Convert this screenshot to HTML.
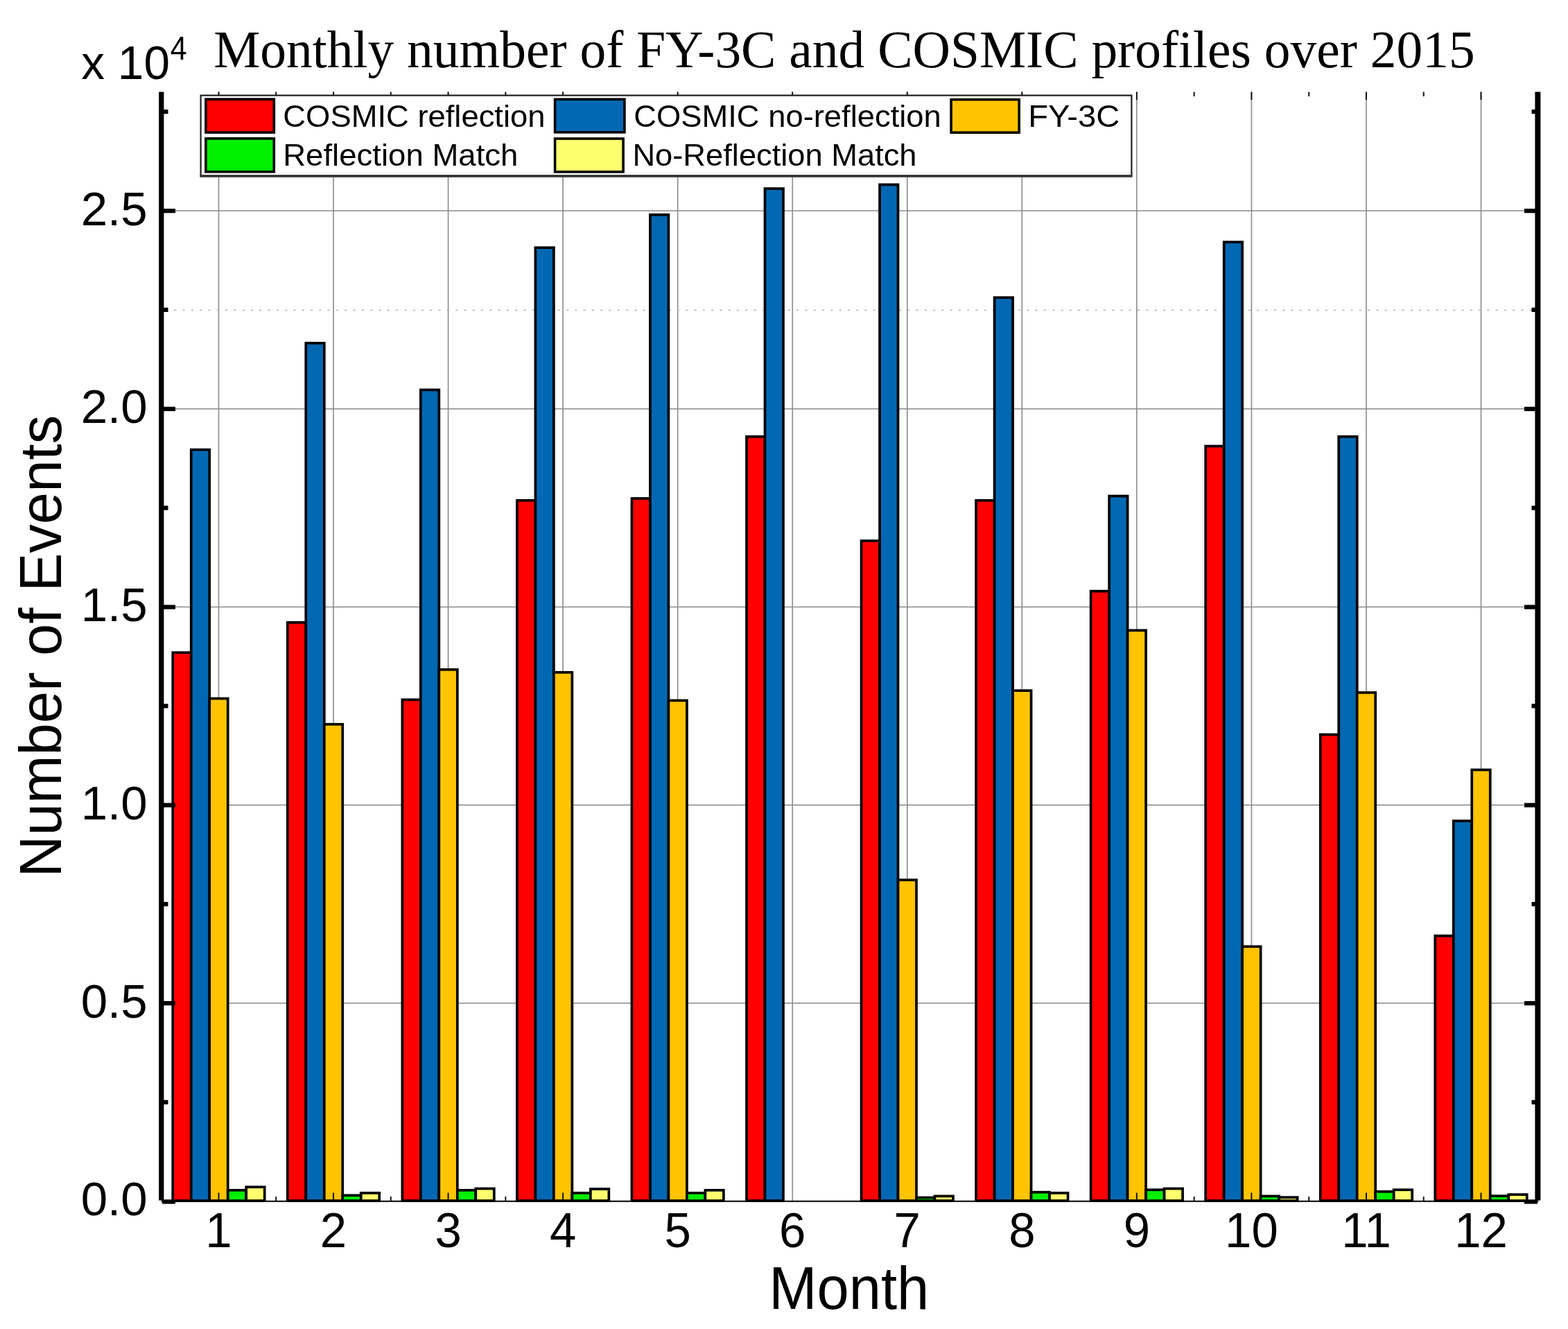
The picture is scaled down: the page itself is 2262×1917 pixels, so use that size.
<!DOCTYPE html>
<html><head><meta charset="utf-8"><title>Monthly number of FY-3C and COSMIC profiles over 2015</title>
<style>html,body{margin:0;padding:0;background:#fff;}body{width:2262px;height:1917px;overflow:hidden;}svg{display:block;}.s{font-family:"Liberation Sans",Arial,sans-serif;}.t{font-family:"Liberation Serif","Times New Roman",serif;}</style></head><body>
<svg width="2262" height="1917" viewBox="0 0 2262 1917">
<rect x="0" y="0" width="2262" height="1917" fill="#ffffff"/>
<path d="M315.48 132.60V1732.80M481.02 132.60V1732.80M646.58 132.60V1732.80M812.12 132.60V1732.80M977.67 132.60V1732.80M1143.23 132.60V1732.80M1308.78 132.60V1732.80M1474.33 132.60V1732.80M1639.88 132.60V1732.80M1805.43 132.60V1732.80M1970.98 132.60V1732.80M2136.53 132.60V1732.80M232.70 1447.05H2219.30M232.70 1161.30H2219.30M232.70 875.55H2219.30M232.70 589.80H2219.30M232.70 304.05H2219.30" stroke="#8a8a8a" stroke-width="1.6" fill="none"/>
<path d="M238.70 447.40H2219.30" stroke="#b4b4b4" stroke-width="1.5" stroke-dasharray="3.5 8.8" fill="none"/>
<rect x="249.25" y="941.27" width="26.49" height="790.73" fill="#ff0000" stroke="#000" stroke-width="3.7"/>
<rect x="414.80" y="897.84" width="26.49" height="834.16" fill="#ff0000" stroke="#000" stroke-width="3.7"/>
<rect x="580.36" y="1009.28" width="26.49" height="722.72" fill="#ff0000" stroke="#000" stroke-width="3.7"/>
<rect x="745.90" y="721.82" width="26.49" height="1010.18" fill="#ff0000" stroke="#000" stroke-width="3.7"/>
<rect x="911.45" y="718.96" width="26.49" height="1013.04" fill="#ff0000" stroke="#000" stroke-width="3.7"/>
<rect x="1077.01" y="629.81" width="26.49" height="1102.19" fill="#ff0000" stroke="#000" stroke-width="3.7"/>
<rect x="1242.56" y="780.11" width="26.49" height="951.89" fill="#ff0000" stroke="#000" stroke-width="3.7"/>
<rect x="1408.11" y="721.82" width="26.49" height="1010.18" fill="#ff0000" stroke="#000" stroke-width="3.7"/>
<rect x="1573.66" y="852.69" width="26.49" height="879.31" fill="#ff0000" stroke="#000" stroke-width="3.7"/>
<rect x="1739.21" y="643.52" width="26.49" height="1088.48" fill="#ff0000" stroke="#000" stroke-width="3.7"/>
<rect x="1904.76" y="1059.57" width="26.49" height="672.43" fill="#ff0000" stroke="#000" stroke-width="3.7"/>
<rect x="2070.31" y="1349.89" width="26.49" height="382.11" fill="#ff0000" stroke="#000" stroke-width="3.7"/>
<rect x="275.74" y="648.66" width="26.49" height="1083.34" fill="#0068b2" stroke="#000" stroke-width="3.7"/>
<rect x="441.29" y="494.93" width="26.49" height="1237.07" fill="#0068b2" stroke="#000" stroke-width="3.7"/>
<rect x="606.84" y="562.37" width="26.49" height="1169.63" fill="#0068b2" stroke="#000" stroke-width="3.7"/>
<rect x="772.39" y="357.20" width="26.49" height="1374.80" fill="#0068b2" stroke="#000" stroke-width="3.7"/>
<rect x="937.94" y="309.76" width="26.49" height="1422.24" fill="#0068b2" stroke="#000" stroke-width="3.7"/>
<rect x="1103.49" y="272.05" width="26.49" height="1459.95" fill="#0068b2" stroke="#000" stroke-width="3.7"/>
<rect x="1269.04" y="266.33" width="26.49" height="1465.67" fill="#0068b2" stroke="#000" stroke-width="3.7"/>
<rect x="1434.59" y="429.21" width="26.49" height="1302.79" fill="#0068b2" stroke="#000" stroke-width="3.7"/>
<rect x="1600.14" y="715.53" width="26.49" height="1016.47" fill="#0068b2" stroke="#000" stroke-width="3.7"/>
<rect x="1765.69" y="349.20" width="26.49" height="1382.80" fill="#0068b2" stroke="#000" stroke-width="3.7"/>
<rect x="1931.24" y="629.81" width="26.49" height="1102.19" fill="#0068b2" stroke="#000" stroke-width="3.7"/>
<rect x="2096.79" y="1184.16" width="26.49" height="547.84" fill="#0068b2" stroke="#000" stroke-width="3.7"/>
<rect x="302.23" y="1007.57" width="26.49" height="724.43" fill="#ffc400" stroke="#000" stroke-width="3.7"/>
<rect x="467.78" y="1044.71" width="26.49" height="687.29" fill="#ffc400" stroke="#000" stroke-width="3.7"/>
<rect x="633.33" y="965.85" width="26.49" height="766.15" fill="#ffc400" stroke="#000" stroke-width="3.7"/>
<rect x="798.88" y="969.85" width="26.49" height="762.15" fill="#ffc400" stroke="#000" stroke-width="3.7"/>
<rect x="964.43" y="1010.42" width="26.49" height="721.58" fill="#ffc400" stroke="#000" stroke-width="3.7"/>
<rect x="1295.53" y="1269.31" width="26.49" height="462.69" fill="#ffc400" stroke="#000" stroke-width="3.7"/>
<rect x="1461.08" y="996.14" width="26.49" height="735.86" fill="#ffc400" stroke="#000" stroke-width="3.7"/>
<rect x="1626.63" y="909.27" width="26.49" height="822.73" fill="#ffc400" stroke="#000" stroke-width="3.7"/>
<rect x="1792.18" y="1365.33" width="26.49" height="366.67" fill="#ffc400" stroke="#000" stroke-width="3.7"/>
<rect x="1957.73" y="998.99" width="26.49" height="733.01" fill="#ffc400" stroke="#000" stroke-width="3.7"/>
<rect x="2123.28" y="1110.44" width="26.49" height="621.56" fill="#ffc400" stroke="#000" stroke-width="3.7"/>
<rect x="328.72" y="1716.80" width="26.49" height="15.20" fill="#00f000" stroke="#000" stroke-width="3.7"/>
<rect x="494.27" y="1724.23" width="26.49" height="7.77" fill="#00f000" stroke="#000" stroke-width="3.7"/>
<rect x="659.82" y="1716.80" width="26.49" height="15.20" fill="#00f000" stroke="#000" stroke-width="3.7"/>
<rect x="825.37" y="1720.80" width="26.49" height="11.20" fill="#00f000" stroke="#000" stroke-width="3.7"/>
<rect x="990.92" y="1720.80" width="26.49" height="11.20" fill="#00f000" stroke="#000" stroke-width="3.7"/>
<rect x="1322.02" y="1727.43" width="26.49" height="4.57" fill="#00f000" stroke="#000" stroke-width="3.7"/>
<rect x="1487.57" y="1719.66" width="26.49" height="12.34" fill="#00f000" stroke="#000" stroke-width="3.7"/>
<rect x="1653.12" y="1716.23" width="26.49" height="15.77" fill="#00f000" stroke="#000" stroke-width="3.7"/>
<rect x="1818.67" y="1725.37" width="26.49" height="6.63" fill="#00f000" stroke="#000" stroke-width="3.7"/>
<rect x="1984.22" y="1718.80" width="26.49" height="13.20" fill="#00f000" stroke="#000" stroke-width="3.7"/>
<rect x="2149.77" y="1725.08" width="26.49" height="6.92" fill="#00f000" stroke="#000" stroke-width="3.7"/>
<rect x="355.21" y="1712.23" width="26.49" height="19.77" fill="#ffff6e" stroke="#000" stroke-width="3.7"/>
<rect x="520.76" y="1720.80" width="26.49" height="11.20" fill="#ffff6e" stroke="#000" stroke-width="3.7"/>
<rect x="686.31" y="1714.51" width="26.49" height="17.49" fill="#ffff6e" stroke="#000" stroke-width="3.7"/>
<rect x="851.86" y="1715.08" width="26.49" height="16.92" fill="#ffff6e" stroke="#000" stroke-width="3.7"/>
<rect x="1017.41" y="1716.80" width="26.49" height="15.20" fill="#ffff6e" stroke="#000" stroke-width="3.7"/>
<rect x="1348.51" y="1725.37" width="26.49" height="6.63" fill="#ffff6e" stroke="#000" stroke-width="3.7"/>
<rect x="1514.06" y="1720.80" width="26.49" height="11.20" fill="#ffff6e" stroke="#000" stroke-width="3.7"/>
<rect x="1679.61" y="1714.51" width="26.49" height="17.49" fill="#ffff6e" stroke="#000" stroke-width="3.7"/>
<rect x="1845.16" y="1727.09" width="26.49" height="4.91" fill="#ffff6e" stroke="#000" stroke-width="3.7"/>
<rect x="2010.71" y="1716.23" width="26.49" height="15.77" fill="#ffff6e" stroke="#000" stroke-width="3.7"/>
<rect x="2176.26" y="1723.08" width="26.49" height="8.92" fill="#ffff6e" stroke="#000" stroke-width="3.7"/>
<path d="M232.70 1732.80H2219.30" stroke="#000" stroke-width="2" fill="none"/>
<path d="M315.48 1732.00v-11.5M315.48 132.60v11.5M481.02 1732.00v-11.5M481.02 132.60v11.5M646.58 1732.00v-11.5M646.58 132.60v11.5M812.12 1732.00v-11.5M812.12 132.60v11.5M977.67 132.60v11.5M1143.23 132.60v11.5M1308.78 132.60v11.5M1474.33 132.60v11.5M1639.88 1732.00v-11.5M1639.88 132.60v11.5M1805.43 1732.00v-11.5M1805.43 132.60v11.5M1970.98 1732.00v-11.5M1970.98 132.60v11.5M2136.53 1732.00v-11.5M2136.53 132.60v11.5M398.25 1732.00v-6M398.25 132.60v6.5M563.80 1732.00v-6M563.80 132.60v6.5M729.35 1732.00v-6M729.35 132.60v6.5M1722.65 1732.00v-6M1722.65 132.60v6.5M1888.20 1732.00v-6M1888.20 132.60v6.5M2053.75 1732.00v-6M2053.75 132.60v6.5" stroke="#141414" stroke-width="2" fill="none"/>
<path d="M232.8 132.60V1731.5" stroke="#000" stroke-width="7.2" fill="none"/>
<path d="M2218.4 132.60V1731.5" stroke="#000" stroke-width="8" fill="none"/>
<path d="M234 1733.40H253M2199 1733.40H2218M234 1447.05H253M2199 1447.05H2218M234 1161.30H253M2199 1161.30H2218M234 875.55H253M2199 875.55H2218M234 589.80H253M2199 589.80H2218M234 304.05H253M2199 304.05H2218M234 1589.92H242.5M2209.5 1589.92H2218M234 1304.17H242.5M2209.5 1304.17H2218M234 1018.42H242.5M2209.5 1018.42H2218M234 732.67H242.5M2209.5 732.67H2218M234 446.92H242.5M2209.5 446.92H2218M234 161.17H242.5M2209.5 161.17H2218" stroke="#000" stroke-width="6.2" fill="none"/>
<text class="t" transform="translate(308.19 97.10) scale(1.0064 1.0243)" font-size="75" text-anchor="start">Monthly number of FY-3C and COSMIC profiles over 2015</text>
<text class="s" transform="translate(117.28 114.40) scale(1.0240 1.0373)" font-size="66" text-anchor="start">x 10</text>
<text class="s" transform="translate(245.64 86.30) scale(0.9565 1.0594)" font-size="45" text-anchor="start">4</text>
<text class="s" transform="translate(87.80 932.06) rotate(-90) scale(1.0038 1.0367)" font-size="83" text-anchor="middle">Number of Events</text>
<text class="s" transform="translate(1224.85 1888.40) scale(1.0014 1.0595)" font-size="83" text-anchor="middle">Month</text>
<text class="s" transform="translate(212.60 1753.30) scale(1.0000 1.0048)" font-size="69" text-anchor="end">0.0</text>
<text class="s" transform="translate(212.60 1467.55) scale(1.0000 1.0048)" font-size="69" text-anchor="end">0.5</text>
<text class="s" transform="translate(212.60 1181.80) scale(1.0000 1.0048)" font-size="69" text-anchor="end">1.0</text>
<text class="s" transform="translate(212.60 896.05) scale(1.0000 1.0048)" font-size="69" text-anchor="end">1.5</text>
<text class="s" transform="translate(212.60 610.30) scale(1.0000 1.0048)" font-size="69" text-anchor="end">2.0</text>
<text class="s" transform="translate(212.60 324.55) scale(1.0000 1.0048)" font-size="69" text-anchor="end">2.5</text>
<text class="s" transform="translate(315.48 1798.90) scale(1.0000 1.0111)" font-size="69" text-anchor="middle">1</text>
<text class="s" transform="translate(481.02 1798.90) scale(1.0000 1.0111)" font-size="69" text-anchor="middle">2</text>
<text class="s" transform="translate(646.58 1798.90) scale(1.0000 1.0111)" font-size="69" text-anchor="middle">3</text>
<text class="s" transform="translate(812.12 1798.90) scale(1.0000 1.0111)" font-size="69" text-anchor="middle">4</text>
<text class="s" transform="translate(977.67 1798.90) scale(1.0000 1.0111)" font-size="69" text-anchor="middle">5</text>
<text class="s" transform="translate(1143.23 1798.90) scale(1.0000 1.0111)" font-size="69" text-anchor="middle">6</text>
<text class="s" transform="translate(1308.78 1798.90) scale(1.0000 1.0111)" font-size="69" text-anchor="middle">7</text>
<text class="s" transform="translate(1474.33 1798.90) scale(1.0000 1.0111)" font-size="69" text-anchor="middle">8</text>
<text class="s" transform="translate(1639.88 1798.90) scale(1.0000 1.0111)" font-size="69" text-anchor="middle">9</text>
<text class="s" transform="translate(1805.43 1798.90) scale(1.0000 1.0111)" font-size="69" text-anchor="middle">10</text>
<text class="s" transform="translate(1970.98 1798.90) scale(1.0000 1.0111)" font-size="69" text-anchor="middle">11</text>
<text class="s" transform="translate(2136.53 1798.90) scale(1.0000 1.0111)" font-size="69" text-anchor="middle">12</text>
<rect x="289.6" y="137.6" width="1342.8" height="116" fill="#fff" stroke="#1e1e1e" stroke-width="2.2"/>
<path d="M288.5 254H1633.4" stroke="#333" stroke-width="3.4" fill="none"/>
<rect x="296.90" y="143.10" width="98.40" height="48.00" fill="#ff0000" stroke="#000" stroke-width="3.6"/>
<rect x="296.90" y="199.80" width="98.40" height="48.00" fill="#00f000" stroke="#000" stroke-width="3.6"/>
<rect x="800.60" y="143.20" width="100.30" height="47.60" fill="#0068b2" stroke="#000" stroke-width="3.6"/>
<rect x="800.60" y="200.00" width="98.50" height="47.90" fill="#ffff6e" stroke="#000" stroke-width="3.6"/>
<rect x="1372.10" y="143.60" width="98.10" height="47.60" fill="#ffc400" stroke="#000" stroke-width="3.6"/>
<text class="s" transform="translate(408.36 182.50) scale(1.0197 1.0126)" font-size="44.5" text-anchor="start">COSMIC reflection</text>
<text class="s" transform="translate(914.16 182.50) scale(1.0195 1.0126)" font-size="44.5" text-anchor="start">COSMIC no-reflection</text>
<text class="s" transform="translate(1483.15 182.50) scale(1.0627 1.0126)" font-size="44.5" text-anchor="start">FY-3C</text>
<text class="s" transform="translate(408.20 239.00) scale(1.0238 1.0126)" font-size="44.5" text-anchor="start">Reflection Match</text>
<text class="s" transform="translate(912.43 239.00) scale(1.0177 1.0126)" font-size="44.5" text-anchor="start">No-Reflection Match</text>
</svg>
</body></html>
